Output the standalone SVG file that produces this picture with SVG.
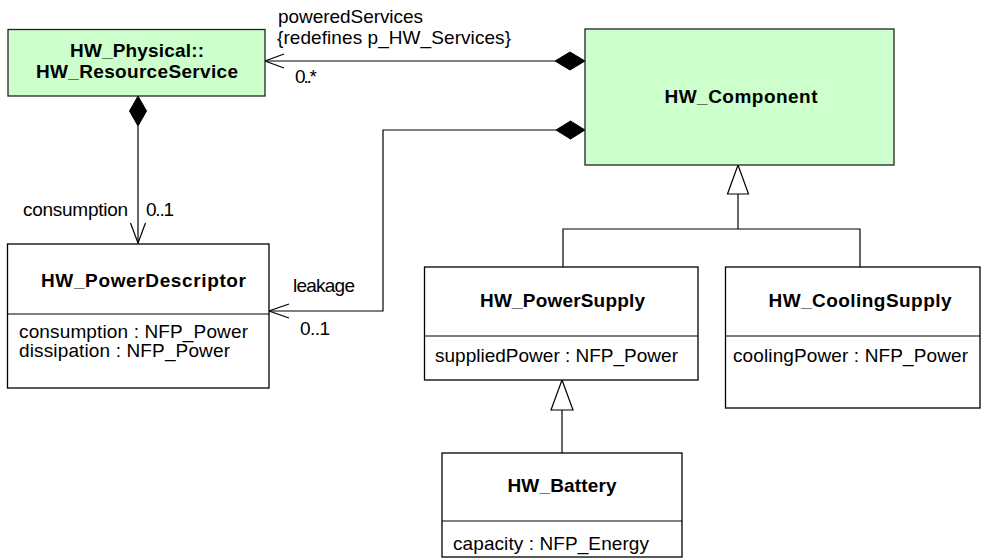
<svg xmlns="http://www.w3.org/2000/svg" width="982" height="559" viewBox="0 0 982 559">
<style>
text{font-family:"Liberation Sans",Arial,sans-serif;font-size:19px;fill:#000}
.t{font-weight:bold;text-anchor:middle}
.box{fill:#fff;stroke:#000;stroke-width:1.3}
.green{fill:#ccffcc;stroke:#222;stroke-width:1.3}
.ln{fill:none;stroke:#000;stroke-width:1.2}
.dia{fill:#000;stroke:#000;stroke-width:1}
.tri{fill:#fff;stroke:#000;stroke-width:1.2}
</style>
<rect width="982" height="559" fill="#fff"/>
<g id="connectors">
  <polyline class="ln" points="265,61 555,61"/>
  <polyline class="ln" points="284,54 265,61 284,68"/>
  <polygon class="dia" points="555,61 570,52 585,61 570,70"/>
  <polyline class="ln" points="556,130 383,130 383,311 269,311"/>
  <polyline class="ln" points="289,304 269,311 289,318"/>
  <polygon class="dia" points="556,130 570.5,121 585,130 570.5,139"/>
  <polyline class="ln" points="138,126 138,243"/>
  <polyline class="ln" points="130.5,223 138,243 145.5,223"/>
  <polygon class="dia" points="138,96 146.5,111 138,126 129.5,111"/>
  <polyline class="ln" points="563,267 563,229 860,229 860,267"/>
  <polyline class="ln" points="738,229 738,194"/>
  <polygon class="tri" points="738,165 748.5,194 727.5,194"/>
  <polyline class="ln" points="562,453 562,410"/>
  <polygon class="tri" points="562,380 573,410 551,410"/>
  <text x="278" y="23" textLength="145" lengthAdjust="spacing">poweredServices</text>
  <text x="277" y="44" textLength="234" lengthAdjust="spacing">{redefines p_HW_Services}</text>
  <text x="295" y="83" textLength="22" lengthAdjust="spacing">0..*</text>
  <text x="23" y="216" textLength="105" lengthAdjust="spacing">consumption</text>
  <text x="146" y="216" textLength="28" lengthAdjust="spacing">0..1</text>
  <text x="293" y="292" textLength="62" lengthAdjust="spacing">leakage</text>
  <text x="300" y="335" textLength="30" lengthAdjust="spacing">0..1</text>
</g>
<g id="HW_ResourceService">
  <rect class="green" x="8" y="29.5" width="257" height="66.5"/>
  <text class="t" x="137" y="57" textLength="134" lengthAdjust="spacing">HW_Physical::</text>
  <text class="t" x="137" y="78" textLength="202" lengthAdjust="spacing">HW_ResourceService</text>
</g>
<g id="HW_Component">
  <rect class="green" x="585" y="29" width="309" height="136"/>
  <text class="t" x="741" y="103" textLength="153" lengthAdjust="spacing">HW_Component</text>
</g>
<g id="HW_PowerDescriptor">
  <rect class="box" x="7.5" y="244" width="261.5" height="144"/>
  <line class="ln" x1="7.5" y1="314" x2="269" y2="314"/>
  <text class="t" x="143.5" y="287" textLength="205" lengthAdjust="spacing">HW_PowerDescriptor</text>
  <text x="19" y="338" textLength="229" lengthAdjust="spacing">consumption : NFP_Power</text>
  <text x="19" y="357" textLength="211" lengthAdjust="spacing">dissipation : NFP_Power</text>
</g>
<g id="HW_PowerSupply">
  <rect class="box" x="424.5" y="267" width="273.5" height="113"/>
  <line class="ln" x1="424.5" y1="336" x2="698" y2="336"/>
  <text class="t" x="562.5" y="307" textLength="165" lengthAdjust="spacing">HW_PowerSupply</text>
  <text x="435" y="362" textLength="243" lengthAdjust="spacing">suppliedPower : NFP_Power</text>
</g>
<g id="HW_CoolingSupply">
  <rect class="box" x="725.5" y="267" width="254.5" height="141"/>
  <line class="ln" x1="725.5" y1="336" x2="980" y2="336"/>
  <text class="t" x="860" y="307" textLength="183" lengthAdjust="spacing">HW_CoolingSupply</text>
  <text x="733" y="362" textLength="235" lengthAdjust="spacing">coolingPower : NFP_Power</text>
</g>
<g id="HW_Battery">
  <rect class="box" x="442" y="453" width="240" height="104"/>
  <line class="ln" x1="442" y1="521" x2="682" y2="521"/>
  <text class="t" x="562" y="492" textLength="109" lengthAdjust="spacing">HW_Battery</text>
  <text x="453" y="550" textLength="196" lengthAdjust="spacing">capacity : NFP_Energy</text>
</g>
</svg>
